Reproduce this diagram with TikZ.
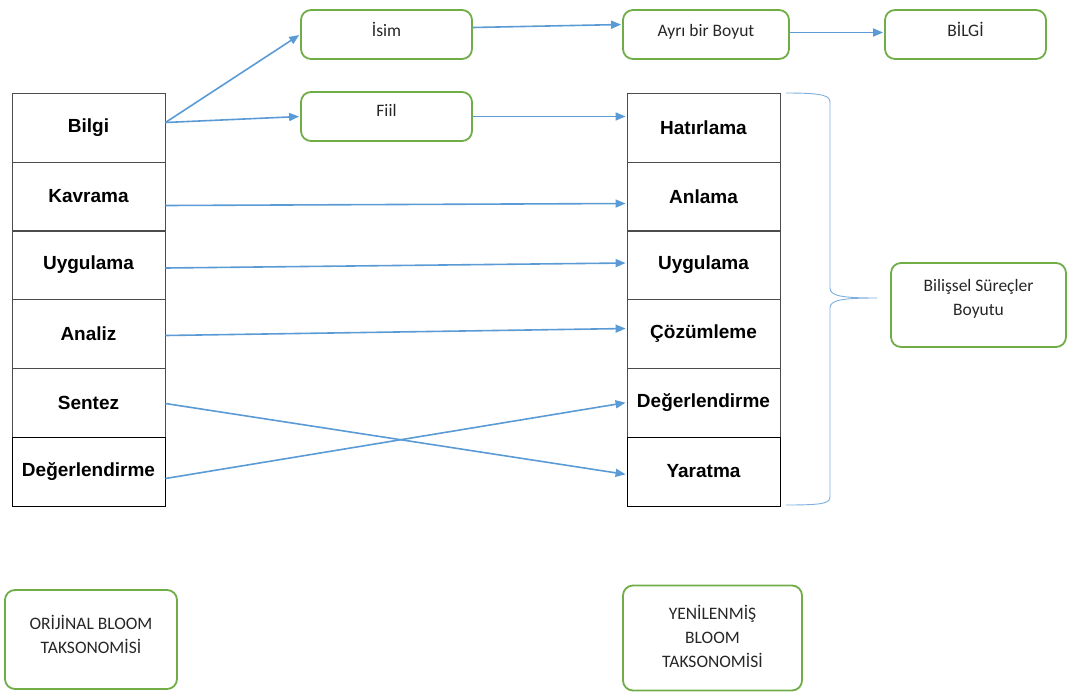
\documentclass[tikz,border=0pt]{standalone}
\usepackage{fontspec}
\setmainfont{Liberation Sans}
\newfontfamily\boxfont{Carlito}
\usetikzlibrary{arrows.meta,positioning}

\definecolor{linkblue}{HTML}{5B9BD5}
\definecolor{boxgreen}{HTML}{70AD47}

\begin{document}
\begin{tikzpicture}[
    x=1pt, y=-1pt,
    >={Triangle[length=10pt,width=8pt]},
    cell/.style={draw=black!70, line width=0.9pt, minimum width=153pt, minimum height=69pt, inner sep=0pt, font=\fontsize{19}{22}\selectfont\bfseries},
    gbox/.style={draw=boxgreen, line width=1.8pt, rounded corners=10pt, inner sep=0pt, align=center, text=black!85, font=\boxfont\fontsize{17.5}{24}\selectfont},
    tag/.style={gbox, minimum height=49pt, text height=12pt, text depth=9pt},
    link/.style={->, draw=linkblue, line width=1.6pt, shorten >=1pt}
]
    \useasboundingbox (0,0) rectangle (1067,691);

    % original taxonomy
    \node[cell] (bilgi) at (88.5,127.5) {Bilgi};
    \node[cell] (kavrama) at (88.5,196.5) {Kavrama};
    \node[cell] (uygulamaA) at (88.5,265) {Uygulama};
    \node[cell] (analiz) at (88.5,333.5) {Analiz};
    \node[cell] (sentez) at (88.5,402.5) {Sentez};
    \node[cell, draw=black] (degerA) at (88.5,471.5) {Değerlendirme};

    % revised taxonomy
    \node[cell] (hatirlama) at (703.5,127.5) {Hatırlama};
    \node[cell] (anlama) at (703.5,196.5) {Anlama};
    \node[cell] (uygulamaB) at (703.5,265) {Uygulama};
    \node[cell] (cozumleme) at (703.5,333.5) {Çözümleme};
    \node[cell] (degerB) at (703.5,402.5) {Değerlendirme};
    \node[cell, draw=black] (yaratma) at (703.5,471.5) {Yaratma};

    % green boxes
    \node[tag, minimum width=171pt] (isim) at (386.5,34.5) {İsim};
    \node[tag, minimum width=171pt, text depth=13pt] (fiil) at (386.5,116.5) {Fiil};
    \node[tag, minimum width=166pt] (ayri) at (706,34.5) {Ayrı bir Boyut};
    \node[tag, minimum width=161pt] (bilgiB) at (965.5,34.5) {BİLGİ};
    \node[gbox, minimum width=175pt, minimum height=84pt] (surec) at (978.5,305) {Bilişsel Süreçler\\Boyutu\\[-9pt]};
    \node[gbox, minimum width=172pt, minimum height=99pt] (orijinal) at (91,639.5) {ORİJİNAL BLOOM\\TAKSONOMİSİ\\[-14pt]};
    \node[gbox, minimum width=179pt, minimum height=105pt] (yeni) at (712.5,638) {YENİLENMİŞ\\BLOOM\\TAKSONOMİSİ\\[-20pt]};

    % brace
    \draw[linkblue!80, line width=0.9pt] (786,93) .. controls (826,93) and (830,96) .. (830,103) -- (830,288)
        .. controls (830,296) and (842,298) .. (877,298)
        .. controls (842,298) and (830,300) .. (830,308) -- (830,496)
        .. controls (830,503) and (826,505) .. (786,505);

    % connectors
    \draw[link] ([yshift=5pt]bilgi.east) -- (isim.west);
    \draw[link] ([yshift=5pt]bilgi.east) -- (fiil.west);
    \draw[link] ([yshift=7pt]isim.east) -- ([yshift=10pt]ayri.west);
    \draw[link] ([yshift=2pt]ayri.east) -- ([yshift=2pt]bilgiB.west);
    \draw[link] (fiil.east) -- ([yshift=11pt]hatirlama.west);
    \draw[link] ([yshift=-9pt]kavrama.east) -- ([yshift=-7pt]anlama.west);
    \draw[link] ([yshift=-3pt]uygulamaA.east) -- ([yshift=2pt]uygulamaB.west);
    \draw[link] ([yshift=-2pt]analiz.east) -- ([yshift=5pt]cozumleme.west);
    \draw[link] ([yshift=-1pt]sentez.east) -- ([yshift=-3pt]yaratma.west);
    \draw[link] ([yshift=-7pt]degerA.east) -- (degerB.west);
\end{tikzpicture}
\end{document}
